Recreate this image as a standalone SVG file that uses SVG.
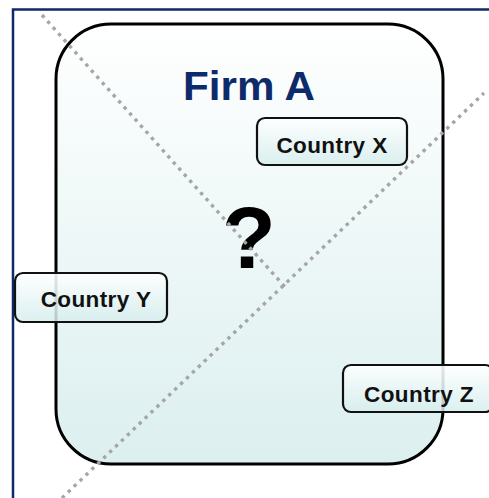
<svg xmlns="http://www.w3.org/2000/svg" width="489" height="498" viewBox="0 0 489 498">
<defs>
<linearGradient id="gMain" x1="0" y1="0" x2="0" y2="1">
<stop offset="0" stop-color="#ffffff"/>
<stop offset="1" stop-color="#dcefef"/>
</linearGradient>
<linearGradient id="gBox" x1="0" y1="0" x2="0" y2="1">
<stop offset="0" stop-color="#ffffff" stop-opacity="0.9"/>
<stop offset="1" stop-color="#d6eded" stop-opacity="0.85"/>
</linearGradient>
<style>
.dots{stroke:#a6a6a6;stroke-width:3.4;stroke-dasharray:3.4 4.8;fill:none}
.box{fill:url(#gBox);stroke:#111;stroke-width:2.2}
.lbl{font-family:"Liberation Sans",Arial,sans-serif;font-weight:bold;font-size:22.5px;fill:#111;text-anchor:middle;letter-spacing:0.4px}
</style>
</defs>
<rect x="0" y="0" width="489" height="498" fill="#ffffff"/>
<rect x="13" y="9.5" width="520" height="520" fill="none" stroke="#0d2a6b" stroke-width="2.5"/>
<g id="firmA">
<rect x="56" y="24" width="387" height="440" rx="55" ry="55" fill="url(#gMain)" stroke="#000" stroke-width="3"/>
<text x="249" y="100" font-family="'Liberation Sans',Arial,sans-serif" font-weight="bold" font-size="40" fill="#0d2a6b" text-anchor="middle" textLength="132" lengthAdjust="spacingAndGlyphs">Firm A</text>
<text x="249" y="268" font-family="'Liberation Sans',Arial,sans-serif" font-weight="bold" font-size="88" fill="#000" text-anchor="middle">?</text>
</g>
<g id="connectors">
<line class="dots" x1="42" y1="15" x2="285" y2="287"/>
<line class="dots" x1="62" y1="498" x2="484" y2="93"/>
</g>
<g id="countryX">
<rect class="box" x="257" y="118" width="150" height="47" rx="8"/>
<text class="lbl" x="332" y="153">Country X</text>
</g>
<g id="countryY">
<rect class="box" x="15" y="273" width="152" height="49" rx="8"/>
<text class="lbl" x="96" y="307">Country Y</text>
</g>
<g id="countryZ">
<rect class="box" x="343" y="365" width="150" height="47" rx="8"/>
<text class="lbl" x="419" y="402">Country Z</text>
</g>
</svg>
